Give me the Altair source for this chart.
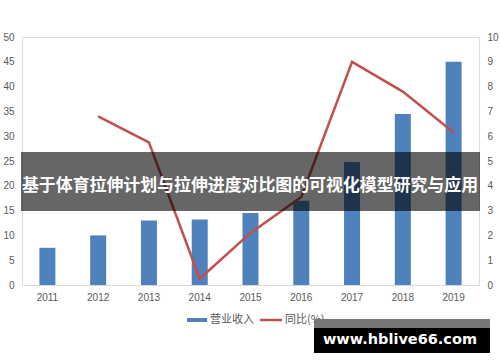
import altair as alt
import pandas as pd

years = ["2011", "2012", "2013", "2014", "2015", "2016", "2017", "2018", "2019"]
revenue = [7.5, 10.0, 13.0, 13.2, 14.5, 17.0, 24.8, 34.5, 45.0]
yoy = [None, 6.8, 5.75, 0.25, 2.1, 3.55, 9.0, 7.8, 6.15]
left_ticks = [0, 5, 10, 15, 20, 25, 30, 35, 40, 45, 50]
right_ticks = [0, 1, 2, 3, 4, 5, 6, 7, 8, 9, 10]
series_names = ["营业收入", "同比(%)"]
title_text = "基于体育拉伸计划与拉伸进度对比图的可视化模型研究与应用"
watermark_text = "www.hblive66.com"

df = pd.DataFrame({"year": years, "revenue": revenue, "yoy": yoy})
one = pd.DataFrame({"k": [0]})

FONT = "Noto Sans CJK SC"
LBL = "#595959"

x_enc = alt.X("year:N", sort=years,
              axis=alt.Axis(title=None, labelAngle=0, ticks=False, domainColor="#D9D9D9",
                            labelColor=LBL, labelFontSize=10, labelPadding=7, labelFont="Liberation Sans"))

bars = alt.Chart(df).mark_bar(size=16, color="#4F81BD").encode(
    x=x_enc,
    y=alt.Y("revenue:Q", scale=alt.Scale(domain=[0, 50], nice=False),
            axis=alt.Axis(title=None, values=left_ticks, grid=False, domain=False, ticks=False,
                          labelColor=LBL, labelFontSize=10, labelPadding=8, labelFont="Liberation Sans")),
)

line = alt.Chart(df).transform_filter("datum.yoy != null").mark_line(
    color="#C0504D", strokeWidth=2.5).encode(
    x=alt.X("year:N", sort=years),
    y=alt.Y("yoy:Q", scale=alt.Scale(domain=[0, 10], nice=False),
            axis=alt.Axis(title=None, orient="right", values=right_ticks, grid=False, domain=False,
                          ticks=False, labelColor=LBL, labelFontSize=10, labelPadding=8,
                          labelFont="Liberation Sans")),
)

# legend (plot origin at 22,37)
leg_rect = alt.Chart(one).mark_rect(color="#4F81BD").encode(
    x=alt.value(165), x2=alt.value(185), y=alt.value(281), y2=alt.value(285))
leg_txt1 = alt.Chart(one).mark_text(align="left", baseline="middle", fontSize=11, color=LBL, font=FONT).encode(
    x=alt.value(188), y=alt.value(283), text=alt.value(series_names[0]))
leg_line = alt.Chart(one).mark_rule(color="#C0504D", strokeWidth=2.5).encode(
    x=alt.value(238), x2=alt.value(260), y=alt.value(283))
leg_txt2 = alt.Chart(one).mark_text(align="left", baseline="middle", fontSize=11, color=LBL, font=FONT).encode(
    x=alt.value(263), y=alt.value(283), text=alt.value(series_names[1]))

# title band
band = alt.Chart(one).mark_rect(color="black", opacity=0.6).encode(
    x=alt.value(-1), x2=alt.value(458), y=alt.value(115), y2=alt.value(174))
title = alt.Chart(one).mark_text(align="center", baseline="middle", fontSize=16.9, fontWeight="bold",
                                 color="white", font=FONT).encode(
    x=alt.value(228), y=alt.value(149), text=alt.value(title_text))

# watermark
wm_top = alt.Chart(one).mark_rect(color="#777777").encode(
    x=alt.value(292), x2=alt.value(468), y=alt.value(282), y2=alt.value(292))
wm_box = alt.Chart(one).mark_rect(color="black").encode(
    x=alt.value(292), x2=alt.value(468), y=alt.value(291), y2=alt.value(316))
wm_txt = alt.Chart(one).mark_text(align="center", baseline="middle", fontSize=14.5, fontWeight="bold",
                                  color="white", font="DejaVu Sans").encode(
    x=alt.value(378), y=alt.value(303), text=alt.value(watermark_text))

chart = alt.layer(bars, line, leg_rect, leg_txt1, leg_line, leg_txt2, band, title,
                  wm_top, wm_box, wm_txt).resolve_scale(y="independent").properties(
    width=457, height=248,
    padding={"left": 22, "top": 37, "right": 21, "bottom": 77},
    autosize=alt.AutoSizeParams(type="none"),
).configure_view(stroke=None).configure(background="white")

chart.save("out.html", embed_options={"renderer": "svg", "actions": False})
